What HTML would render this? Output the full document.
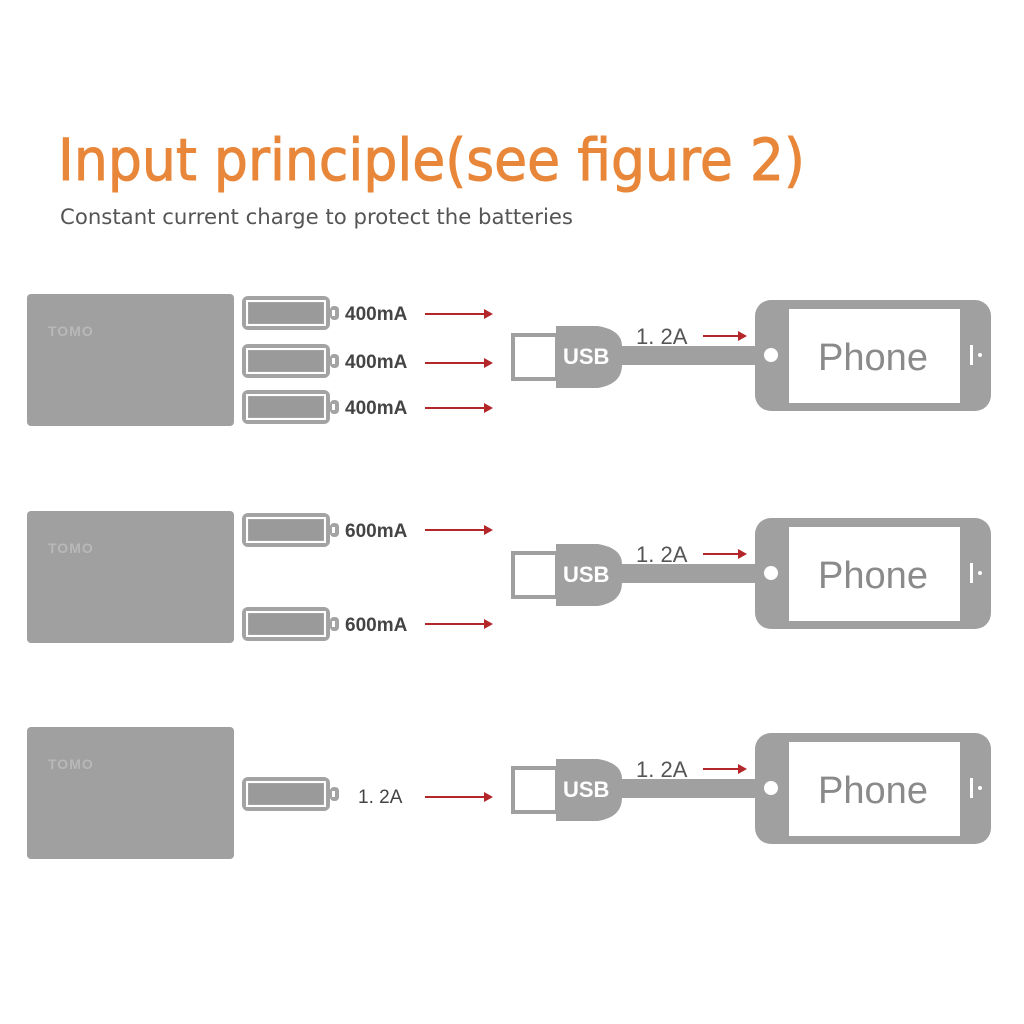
<!DOCTYPE html><html><head><style>body{margin:0;background:#fff}svg{display:block}</style></head><body>
<svg width="1024" height="1024" viewBox="0 0 1024 1024" font-family="Liberation Sans, sans-serif">
<defs>
<g id="bat"><rect x="242" y="0" width="88" height="34" rx="6" fill="#a3a3a3"/><rect x="247" y="5" width="78" height="24" fill="none" stroke="#fff" stroke-width="2"/><rect x="249" y="7" width="74" height="20" fill="#9a9a9a"/><rect x="330" y="10" width="9" height="14" rx="4" fill="#a3a3a3"/><rect x="332" y="14" width="3" height="6" fill="#fff"/></g>
<g id="arr"><line x1="425" y1="0" x2="486" y2="0" stroke="#b3262a" stroke-width="2"/><polygon points="484,-5 493,0 484,5" fill="#b3262a"/></g>
<g id="bank"><rect x="27" y="0" width="207" height="132" rx="4" fill="#a0a0a0"/><text x="48" y="42" font-size="14" font-weight="bold" fill="#b8b8b8" letter-spacing="1">TOMO</text></g>
<g id="dev">
<rect x="513" y="335" width="44" height="44" fill="#fff" stroke="#a0a0a0" stroke-width="4"/>
<path d="M556 326 H598 Q622 330 622 346 L760 346 L760 365 L622 365 Q622 384 598 388 H556 Z" fill="#a0a0a0"/>
<text x="563" y="364" font-size="22" font-weight="bold" fill="#fff">USB</text>
<text x="636" y="344" font-size="22" fill="#555">1. 2A</text>
<line x1="703" y1="336" x2="740" y2="336" stroke="#b3262a" stroke-width="2"/><polygon points="738,331 747,336 738,341" fill="#b3262a"/>
<rect x="755" y="300" width="236" height="111" rx="16" fill="#a0a0a0"/>
<rect x="789" y="309" width="171" height="94" fill="#fff"/>
<circle cx="771" cy="355" r="7" fill="#fff"/>
<rect x="970" y="345" width="3" height="20" fill="#fff"/><circle cx="980" cy="355" r="2" fill="#fff"/>
<text x="818" y="370" font-size="38" fill="#8a8a8a" textLength="110" lengthAdjust="spacingAndGlyphs">Phone</text>
</g>
</defs>
<text x="58" y="180" font-size="58" fill="#e8873a" font-family="DejaVu Sans, sans-serif" textLength="747" lengthAdjust="spacingAndGlyphs" stroke="#e8873a" stroke-width="1">Input principle(see figure 2)</text>
<text x="60" y="224" font-size="21" fill="#555" font-family="DejaVu Sans, sans-serif" textLength="513" lengthAdjust="spacingAndGlyphs">Constant current charge to protect the batteries</text>
<use href="#bank" y="294"/><use href="#bank" y="511"/><use href="#bank" y="727"/>
<use href="#bat" y="296"/><use href="#bat" y="344"/><use href="#bat" y="390"/>
<use href="#bat" y="513"/><use href="#bat" y="607"/><use href="#bat" y="777"/>
<g font-size="19" fill="#444" font-weight="bold">
<text x="345" y="320">400mA</text><text x="345" y="368">400mA</text><text x="345" y="414">400mA</text>
<text x="345" y="537">600mA</text><text x="345" y="631">600mA</text></g>
<text x="358" y="803" font-size="19" fill="#444">1. 2A</text>
<use href="#arr" y="314"/><use href="#arr" y="363"/><use href="#arr" y="408"/>
<use href="#arr" y="530"/><use href="#arr" y="624"/><use href="#arr" y="797"/>
<use href="#dev"/><use href="#dev" y="218"/><use href="#dev" y="433"/>
</svg></body></html>
